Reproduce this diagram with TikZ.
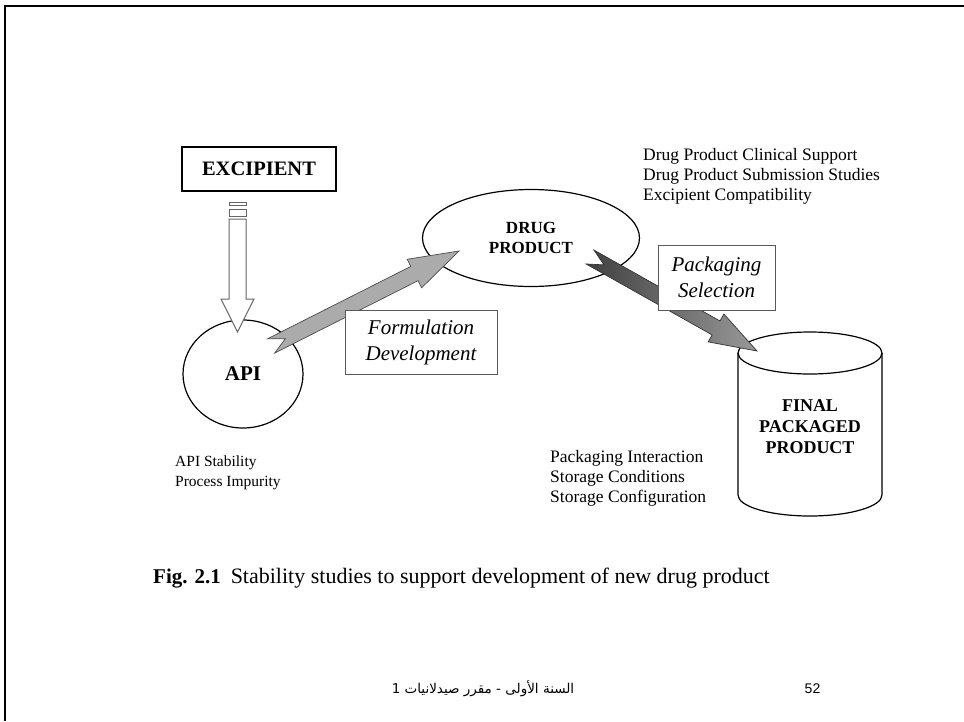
\documentclass[tikz,border=0pt]{standalone}
\usepackage{fontspec}
\setmainfont{Liberation Serif}
\newfontfamily\arabicfont[Script=Arabic]{DejaVu Sans}
\newfontfamily\slidefont{Liberation Sans}
\TeXXeTstate=1
\usetikzlibrary{calc,
shapes.geometric
}
\tikzset{
  every node/.style={inner sep=0pt},
  capsnode/.style={font=\fontsize{17}{20}\selectfont\bfseries, align=center},
  ovalnode/.style={ellipse, draw, line width=1.2pt, fill=white},
  notebox/.style={draw=black!65, fill=white, line width=0.9pt, align=center,
    font=\fontsize{21}{26}\selectfont\itshape},
  notes/.style={anchor=north west, align=left},
  flatarrow/.style={fill=black!33, draw=black!70, line width=0.7pt},
  shadearrow/.style={left color=black!75, right color=black!40, draw=black!80, line width=0.7pt},
  hollowarrow/.style={fill=white, draw=black!60, line width=1pt}
}

% block arrow: style, tail, tip, half width, head length, head half width, notch
\newcommand{\blockarrow}[7]{%
  \path[#1] ($(#2)!#4!90:(#3)$)
    -- ($($(#3)!#5!(#2)$)!#4!90:(#3)$)
    -- ($($(#3)!#5!(#2)$)!#6!90:(#3)$)
    -- (#3)
    -- ($($(#3)!#5!(#2)$)!#6!-90:(#3)$)
    -- ($($(#3)!#5!(#2)$)!#4!-90:(#3)$)
    -- ($(#2)!#4!-90:(#3)$)
    -- ($(#2)!#7!(#3)$) -- cycle;}

\begin{document}
\begin{tikzpicture}[x=1pt, y=-1pt]
  \useasboundingbox (0,0) rectangle (964,721);
  \draw[line width=2.5pt] (5,721) -- (5,6) -- (964,6);

  % stages
  \node[draw, line width=1.4pt, minimum width=154pt, minimum height=44pt,
    font=\fontsize{20.5}{24}\selectfont\bfseries] (excipient) at (259,169) {EXCIPIENT};
  \node[ovalnode, minimum width=120pt, minimum height=108pt,
    font=\fontsize{21}{24}\selectfont\bfseries] (api) at (243,374) {API};
  \node[ovalnode, capsnode, minimum width=217pt, minimum height=97pt] (drug) at (531,238) {DRUG\\PRODUCT};

  % cylinder
  \draw[line width=1.2pt, fill=white] (738,353) -- (738,495)
    arc[start angle=180, end angle=360, x radius=72pt, y radius=21pt] -- (882,353);
  \draw[line width=1.2pt] (810,353) ellipse [x radius=72pt, y radius=21pt];
  \node[capsnode, font=\fontsize{18}{21}\selectfont\bfseries] (final) at (810,427) {FINAL\\PACKAGED\\PRODUCT};

  % arrows
  \coordinate (exc-tail) at (237.5,219);
  \coordinate (exc-tip) at (237.5,332);
  \draw[hollowarrow] (229,202) rectangle (246,205);
  \draw[hollowarrow] (229,209) rectangle (246,216);
  \blockarrow{hollowarrow}{exc-tail}{exc-tip}{8.5pt}{33pt}{16.5pt}{0pt}

  \coordinate (form-tail) at (271,346);
  \coordinate (form-tip) at (459,251);
  \blockarrow{flatarrow}{form-tail}{form-tip}{8pt}{50pt}{16pt}{16pt}

  \coordinate (pack-tail) at (590,257);
  \coordinate (pack-tip) at (757,351);
  \blockarrow{shadearrow}{pack-tail}{pack-tip}{8pt}{47pt}{16pt}{16pt}

  \node[notebox, minimum width=152pt, minimum height=64pt] (formbox) at (421,342) {Formulation\\Development};
  \node[notebox, minimum width=117pt, minimum height=65pt] (packbox) at (716.5,277.5) {Packaging\\Selection};

  % studies
  \node[notes, font=\fontsize{17.5}{20}\selectfont] (drugnotes) at (643,148)
    {Drug Product Clinical Support\\Drug Product Submission Studies\\Excipient Compatibility};
  \node[notes, font=\fontsize{15.5}{20}\selectfont] (apinotes) at (175,456)
    {API Stability\\Process Impurity};
  \node[notes, font=\fontsize{17.5}{20}\selectfont] (packnotes) at (550,450)
    {Packaging Interaction\\Storage Conditions\\Storage Configuration};

  \node[anchor=base west, font=\fontsize{22}{24}\selectfont] (caption) at (153,583)
    {{\fontsize{21}{24}\selectfont\textbf{Fig. 2.1}}\hspace{0.45em}Stability studies to support development of new drug product};

  % footer
  \node[font=\arabicfont\fontsize{13.5}{16}\selectfont] (footer) at (483,689)
    {\beginR السنة الأولى - مقرر صيدلانيات 1\endR};
  \node[font=\slidefont\fontsize{14}{16}\selectfont] (pagenum) at (812.5,689) {52};
\end{tikzpicture}
\end{document}
